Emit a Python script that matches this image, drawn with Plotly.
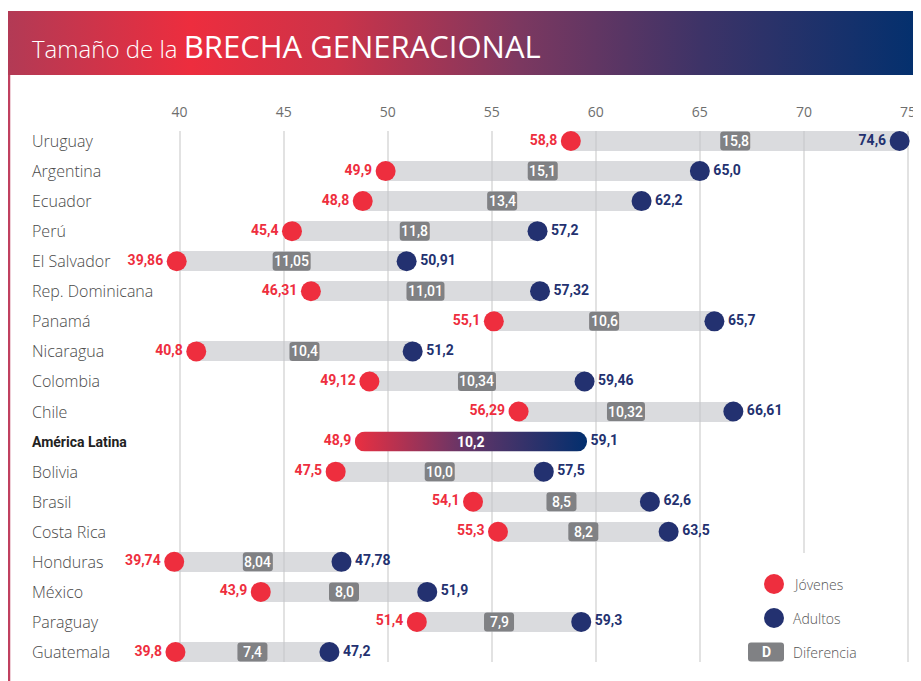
import base64
import plotly.graph_objects as go

# ---------------- data ----------------
countries = ["Uruguay", "Argentina", "Ecuador", "Perú", "El Salvador", "Rep. Dominicana",
             "Panamá", "Nicaragua", "Colombia", "Chile", "América Latina", "Bolivia",
             "Brasil", "Costa Rica", "Honduras", "México", "Paraguay", "Guatemala"]
young = [58.8, 49.9, 48.8, 45.4, 39.86, 46.31, 55.1, 40.8, 49.12, 56.29, 48.9, 47.5,
         54.1, 55.3, 39.74, 43.9, 51.4, 39.8]
adult = [74.6, 65.0, 62.2, 57.2, 50.91, 57.32, 65.7, 51.2, 59.46, 66.61, 59.1, 57.5,
         62.6, 63.5, 47.78, 51.9, 59.3, 47.2]
decimals = [1, 1, 1, 1, 2, 2, 1, 1, 2, 2, 1, 1, 1, 1, 2, 1, 1, 1]
tick_values = [40, 45, 50, 55, 60, 65, 70, 75]
highlight = "América Latina"
title_light = "Tamaño de la "
title_bold = "BRECHA GENERACIONAL"
legend_labels = ["Jóvenes", "Adultos", "Diferencia"]

# ---------------- style ----------------
RED = "#ee2e3e"
NAVY = "#233170"
BOX = "#808184"
BAR = "rgba(196,197,201,0.62)"
NAME_FONT = "Open Sans"
NUM_FONT = "Roboto"

# the page body adds an 8px margin; lay out in window pixels and shift by OFF
OFF = 8
W, H = 921 - OFF, 681 - OFF
PLOT_TOP, PLOT_BOTTOM = 131 - OFF, 662 - OFF
PPU = 20.81                       # pixels per data unit (from tick spacing)
X0 = 40 - (179.6 - OFF) / PPU     # data value at left figure edge
X_RANGE = [X0, X0 + W / PPU]
ROW_PX = (PLOT_BOTTOM - PLOT_TOP - 20) / (len(countries) - 1)
Y_RANGE = [len(countries) - 1 + 10 / ROW_PX, -10 / ROW_PX]


def fmt(v, d):
    return f"{v:.{d}f}".replace(".", ",")


def py(px):
    """window pixel y -> paper y"""
    return (PLOT_BOTTOM - (px - OFF)) / (PLOT_BOTTOM - PLOT_TOP)


def pxx(px):
    """window pixel x -> paper x"""
    return (px - OFF) / W


def rrect(w, h, r):
    x0, x1, y0, y1 = -w / 2, w / 2, -h / 2, h / 2
    return (f"M{x0 + r},{y0} L{x1 - r},{y0} Q{x1},{y0} {x1},{y0 + r} L{x1},{y1 - r} "
            f"Q{x1},{y1} {x1 - r},{y1} L{x0 + r},{y1} Q{x0},{y1} {x0},{y1 - r} "
            f"L{x0},{y0 + r} Q{x0},{y0} {x0 + r},{y0} Z")


def svg_uri(svg):
    return "data:image/svg+xml;base64," + base64.b64encode(svg.encode("utf-8")).decode()


idx = list(range(len(countries)))
diff = [round(a - y, d) for a, y, d in zip(adult, young, decimals)]
is_hl = [c == highlight for c in countries]

fig = go.Figure()

# gray range bars
fig.add_trace(go.Bar(
    y=[i for i in idx if not is_hl[i]],
    x=[diff[i] for i in idx if not is_hl[i]],
    base=[young[i] for i in idx if not is_hl[i]],
    orientation="h", width=20 / ROW_PX, marker=dict(color=BAR, line_width=0),
    hoverinfo="skip", showlegend=False))

# young dots
fig.add_trace(go.Scatter(
    x=young, y=idx, mode="markers+text",
    marker=dict(size=20, color=[("rgba(0,0,0,0)" if h else RED) for h in is_hl], line_width=0),
    text=[fmt(v, d) for v, d in zip(young, decimals)], textposition="middle left",
    textfont=dict(family=NUM_FONT, size=14, color=RED, weight="bold"),
    cliponaxis=False, hoverinfo="skip", showlegend=False))

# adult dots (label moved inside if it would leave the page)
adult_pos = ["middle left" if v > 73.5 else "middle right" for v in adult]
fig.add_trace(go.Scatter(
    x=adult, y=idx, mode="markers+text",
    marker=dict(size=20, color=[("rgba(0,0,0,0)" if h else NAVY) for h in is_hl], line_width=0),
    text=[fmt(v, d) for v, d in zip(adult, decimals)], textposition=adult_pos,
    textfont=dict(family=NUM_FONT, size=14, color=NAVY, weight="bold"),
    cliponaxis=False, hoverinfo="skip", showlegend=False))

shapes = []
annotations = []
images = []

# difference boxes and labels
for i in idx:
    mid = (young[i] + adult[i]) / 2
    label = fmt(diff[i], decimals[i])
    if not is_hl[i]:
        bw = 30 if len(label) <= 4 else 38
        shapes.append(dict(type="path", xref="x", yref="y", xsizemode="pixel", ysizemode="pixel",
                           xanchor=mid, yanchor=i, path=rrect(bw, 19, 3),
                           fillcolor=BOX, line=dict(width=0), layer="above"))
    annotations.append(dict(x=mid, y=i, xref="x", yref="y", text=label, showarrow=False,
                            font=dict(family=NUM_FONT, size=14, color="white",
                                      weight="bold" if is_hl[i] else 500)))

# gradient pill for the highlighted row
for i in idx:
    if is_hl[i]:
        pad = 10 / PPU
        wpx = round((adult[i] - young[i]) * PPU + 20)
        svg = (f"<svg xmlns='http://www.w3.org/2000/svg' width='{wpx}' height='20' viewBox='0 0 {wpx} 20' "
               f"preserveAspectRatio='none'><defs><linearGradient id='g' x1='0' x2='1' y1='0' y2='0'>"
               f"<stop offset='0' stop-color='#ea2f41'/><stop offset='0.45' stop-color='#6a3566'/>"
               f"<stop offset='1' stop-color='#022f6e'/></linearGradient></defs>"
               f"<rect width='{wpx}' height='20' rx='10' ry='10' fill='url(#g)'/></svg>")
        images.append(dict(source=svg_uri(svg), xref="x", yref="y", x=young[i] - pad, y=i,
                           sizex=adult[i] - young[i] + 2 * pad, sizey=20 / ROW_PX,
                           xanchor="left", yanchor="middle", sizing="stretch", layer="above"))

# country names
for i, c in enumerate(countries):
    annotations.append(dict(
        x=pxx(30), y=i, xref="paper", yref="y", xanchor="left", yanchor="middle",
        text=c, showarrow=False,
        font=dict(family=NUM_FONT if is_hl[i] else NAME_FONT,
                  size=14 if is_hl[i] else 16,
                  color="#222222" if is_hl[i] else "#4a4a4a",
                  weight="bold" if is_hl[i] else 300)))

# title banner
banner_svg = ("<svg xmlns='http://www.w3.org/2000/svg' width='913' height='64' viewBox='0 0 913 64' "
              "preserveAspectRatio='none'><defs><linearGradient id='b' x1='0' x2='1' y1='0' y2='0'>"
              "<stop offset='0' stop-color='#b23a55'/><stop offset='0.2' stop-color='#ed2d3e'/>"
              "<stop offset='0.36' stop-color='#cc3349'/><stop offset='0.56' stop-color='#7c3860'/>"
              "<stop offset='0.76' stop-color='#3d3367'/><stop offset='1' stop-color='#02306e'/>"
              "</linearGradient></defs><rect width='913' height='64' fill='url(#b)'/></svg>")
images.append(dict(source=svg_uri(banner_svg), xref="paper", yref="paper", x=pxx(8), y=py(11),
                   sizex=913 / W, sizey=64 / (PLOT_BOTTOM - PLOT_TOP), xanchor="left", yanchor="top",
                   sizing="stretch", layer="above"))
annotations.append(dict(
    x=pxx(30), y=py(46), xref="paper", yref="paper", xanchor="left", yanchor="middle",
    showarrow=False,
    text=f"<span style='font-weight:300'>{title_light}</span><span style='font-size:31px'>{title_bold}</span>",
    font=dict(family=NAME_FONT, size=24, color="white")))

# left border line
shapes.append(dict(type="line", xref="paper", yref="paper", x0=pxx(9), x1=pxx(9),
                   y0=py(75), y1=py(681), line=dict(color="#c0405f", width=2.5), layer="above"))

# legend area (covers gridlines)
shapes.append(dict(type="rect", xref="x", yref="y",
                   x0=X_RANGE[0] + (712 - OFF) / PPU, x1=X_RANGE[0] + (902 - OFF) / PPU,
                   y0=(553 - 141) / ROW_PX, y1=Y_RANGE[0] + 1,
                   fillcolor="white", line=dict(width=0), layer="between"))
legend_y = [584, 618, 652]
for k, col in enumerate([RED, NAVY]):
    shapes.append(dict(type="circle", xref="paper", yref="paper", xsizemode="pixel", ysizemode="pixel",
                       xanchor=pxx(774), yanchor=py(legend_y[k]), x0=-10, x1=10, y0=-10, y1=10,
                       fillcolor=col, line=dict(width=0), layer="above"))
shapes.append(dict(type="path", xref="paper", yref="paper", xsizemode="pixel", ysizemode="pixel",
                   xanchor=pxx(766), yanchor=py(legend_y[2]), path=rrect(36, 19, 3),
                   fillcolor=BOX, line=dict(width=0), layer="above"))
annotations.append(dict(x=pxx(766), y=py(legend_y[2]), xref="paper", yref="paper", text="D",
                        xanchor="center", yanchor="middle",
                        showarrow=False, font=dict(family=NUM_FONT, size=14, color="white", weight="bold")))
for k, lab in enumerate(legend_labels):
    annotations.append(dict(x=pxx(791), y=py(legend_y[k]), xref="paper", yref="paper", xanchor="left",
                            yanchor="middle", text=lab, showarrow=False,
                            font=dict(family=NAME_FONT, size=14, color="#555555", weight=300)))

fig.update_layout(
    width=W, height=H,
    margin=dict(l=0, r=0, t=PLOT_TOP, b=H - PLOT_BOTTOM, pad=0),
    paper_bgcolor="white", plot_bgcolor="white",
    xaxis=dict(range=X_RANGE, side="top", tickvals=tick_values, ticktext=[str(t) for t in tick_values],
               showgrid=True, gridcolor="#e2e2e2", gridwidth=2, zeroline=False, showline=False,
               ticks="", ticklabelstandoff=10,
               tickfont=dict(family=NAME_FONT, size=14, color="#6e6e6e")),
    yaxis=dict(range=Y_RANGE, showgrid=False, zeroline=False, showticklabels=False, showline=False),
    shapes=shapes, annotations=annotations, images=images,
    hovermode=False, bargap=0, showlegend=False,
)

fig.write_html("out.html")
